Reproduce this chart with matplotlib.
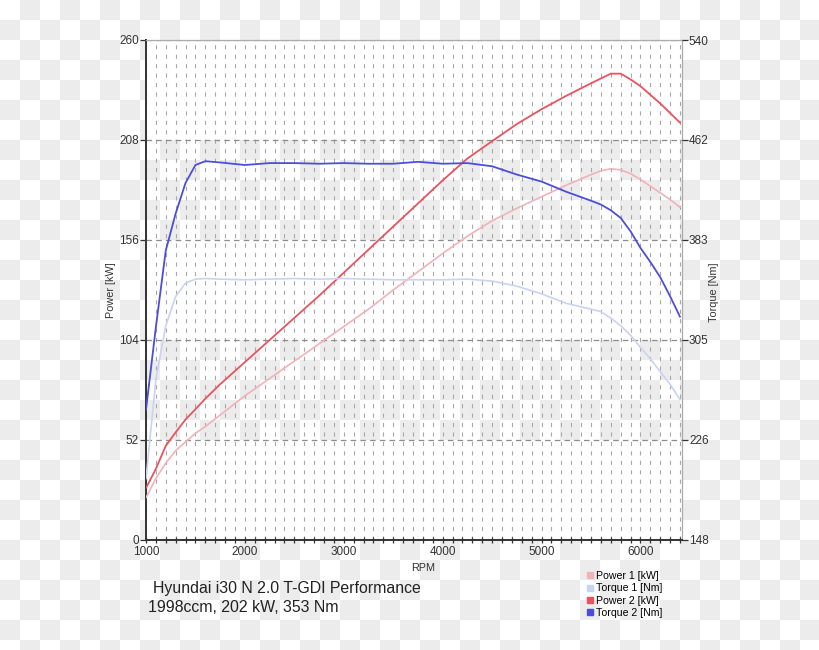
import numpy as np
import matplotlib
matplotlib.use("Agg")
import matplotlib.pyplot as plt
from matplotlib.lines import Line2D

plt.rcParams['font.family'] = ['Liberation Sans', 'DejaVu Sans']
plt.rcParams['lines.scale_dashes'] = False

# ---- data ----
rpm = [1000, 1100, 1200, 1300, 1400, 1500, 1600, 1750, 2000, 2250, 2500, 2750,
       3000, 3250, 3500, 3750, 4000, 4250, 4500, 4750, 5000, 5250, 5500, 5600,
       5700, 5800, 5900, 6000, 6100, 6200, 6300, 6400]
power1 = [22, 32, 40, 46.5, 51, 55.5, 59, 65, 75, 84, 93, 102,
          111, 120, 130, 139.5, 149, 158, 166, 172.5, 178.5, 184.5, 190, 192,
          193, 192.5, 190.5, 187.5, 184, 180.5, 177, 173]
torque1 = [196, 274, 316, 339, 349.5, 352.5, 353, 352.5, 352, 352.5, 353, 352.5,
           353, 352.5, 352, 352, 352, 352.5, 351, 347, 341, 333.5, 329, 327,
           322, 316, 308.5, 299, 290, 280, 270, 258]
power2 = [27, 37, 49, 56, 62.7, 68, 73.5, 81, 92.5, 104, 115.5, 127,
          139, 151, 163, 175, 187, 198.4, 207.4, 216.3, 224, 231, 237.5, 240,
          242.5, 242.5, 239.5, 236, 231.5, 227, 222, 217]
torque2 = [250, 315, 375, 404, 428, 442, 445, 444, 442, 443.5, 443.5, 443,
           443.5, 443, 443, 444.5, 443, 443.5, 441, 434.5, 429, 421, 414, 411,
           406.5, 400.5, 390, 377, 366, 354, 339, 323]

power_ticks = [0, 52, 104, 156, 208, 260]
torque_ticks = [148, 226.4, 304.8, 383.2, 461.6, 540]
torque_labels = ["148", "226", "305", "383", "462", "540"]
rpm_ticks = [1000, 2000, 3000, 4000, 5000, 6000]
series_labels = ["Power 1 [kW]", "Torque 1 [Nm]", "Power 2 [kW]", "Torque 2 [Nm]"]
title1 = "Hyundai i30 N 2.0 T-GDI Performance"
title2 = "1998ccm, 202 kW, 353 Nm"

c_p1 = "#f2b2b7"
c_t1 = "#c9d4f3"
c_p2 = "#e8535e"
c_t2 = "#4d4ddc"

W, H = 820, 650
fig = plt.figure(figsize=(W / 100, H / 100), dpi=100)
fig.patch.set_facecolor("white")

# checkerboard background (transparency pattern)
bg = fig.add_axes([0, 0, 1, 1], zorder=-10)
nr, nc = 33, 41
ii, jj = np.meshgrid(np.arange(nc), np.arange(nr))
board = ((ii + jj) % 2).astype(float)
bg.imshow(board, cmap=matplotlib.colors.ListedColormap(["#ffffff", "#ececec"]),
          extent=(0, nc * 20, nr * 20, 0), interpolation="nearest", aspect="auto")
bg.set_xlim(0, W)
bg.set_ylim(H, 0)
bg.axis("off")

ax = fig.add_axes([146 / W, 1 - 540 / H, 536 / W, 500 / H])
ax.set_facecolor("none")
ax.set_xlim(1000, 6420)
ax.set_ylim(0, 260)

# white bands
for lo, hi in [(0, 52), (104, 156), (208, 260)]:
    ax.axhspan(lo, hi, color="white", zorder=0, lw=0)

ax.set_xticks(rpm_ticks)
ax.set_xticks(np.arange(1000, 6401, 100), minor=True)
ax.set_yticks(power_ticks)
ax.set_yticklabels([str(v) for v in power_ticks])

ax.grid(True, axis="x", which="both", color="#a8a8a8", lw=0.8,
        linestyle=(0, (3.0, 3.8)), zorder=1)
ax.grid(True, axis="y", which="major", color="#8c8c8c", lw=0.9,
        linestyle=(0, (4.0, 3.0)), zorder=1)
ax.set_axisbelow(True)

ax.tick_params(axis="x", which="both", direction="inout", length=5, width=0.9,
               colors="#333333", labelsize=8.5, pad=2)
ax.tick_params(axis="y", which="major", direction="out", length=4, width=0.9,
               colors="#333333", labelsize=8.5, pad=1)

for s in ["left", "bottom"]:
    ax.spines[s].set_color("#333333")
    ax.spines[s].set_linewidth(1.4)
for s in ["top", "right"]:
    ax.spines[s].set_color("#aaaaaa")
    ax.spines[s].set_linewidth(0.9)

ax2 = ax.twinx()
ax2.set_ylim(148, 540)
ax2.set_yticks(torque_ticks)
ax2.set_yticklabels(torque_labels)
ax2.tick_params(axis="y", direction="out", length=4, width=0.9,
                colors="#333333", labelsize=8.5, pad=1)
for s in ax2.spines.values():
    s.set_visible(False)

kw = dict(solid_joinstyle="round", solid_capstyle="round")
ax.plot(rpm, power1, color=c_p1, lw=1.2, zorder=3, **kw)
ax2.plot(rpm, torque1, color=c_t1, lw=1.2, zorder=3, **kw)
ax.plot(rpm, power2, color=c_p2, lw=1.3, zorder=4, **kw)
ax2.plot(rpm, torque2, color=c_t2, lw=1.3, zorder=4, **kw)

fig.text(423 / W, 1 - 568 / H, "RPM", ha="center", va="center",
         fontsize=7.8, color="#333333")
fig.text(111 / W, 1 - 290 / H, "Power [kW]", ha="center", va="center",
         rotation=90, fontsize=7.8, color="#333333")
fig.text(714 / W, 1 - 292 / H, "Torque [Nm]", ha="center", va="center",
         rotation=90, fontsize=7.8, color="#333333")

fig.text(153 / W, 1 - 589 / H, title1, ha="left", va="center",
         fontsize=11.4, color="#222222")
fig.text(148 / W, 1 - 608 / H, title2, ha="left", va="center",
         fontsize=11.4, color="#222222")

handles = [Line2D([], [], marker="s", ls="none", color=c, markersize=4.5)
           for c in [c_p1, c_t1, c_p2, c_t2]]
fig.legend(handles, series_labels, loc="upper left",
           bbox_to_anchor=(587 / W, 1 - 571 / H), frameon=False,
           fontsize=7.6, handlelength=0.6, handletextpad=0.25,
           labelspacing=0.22, borderpad=0, borderaxespad=0)

fig.savefig("out.png", dpi=100)
